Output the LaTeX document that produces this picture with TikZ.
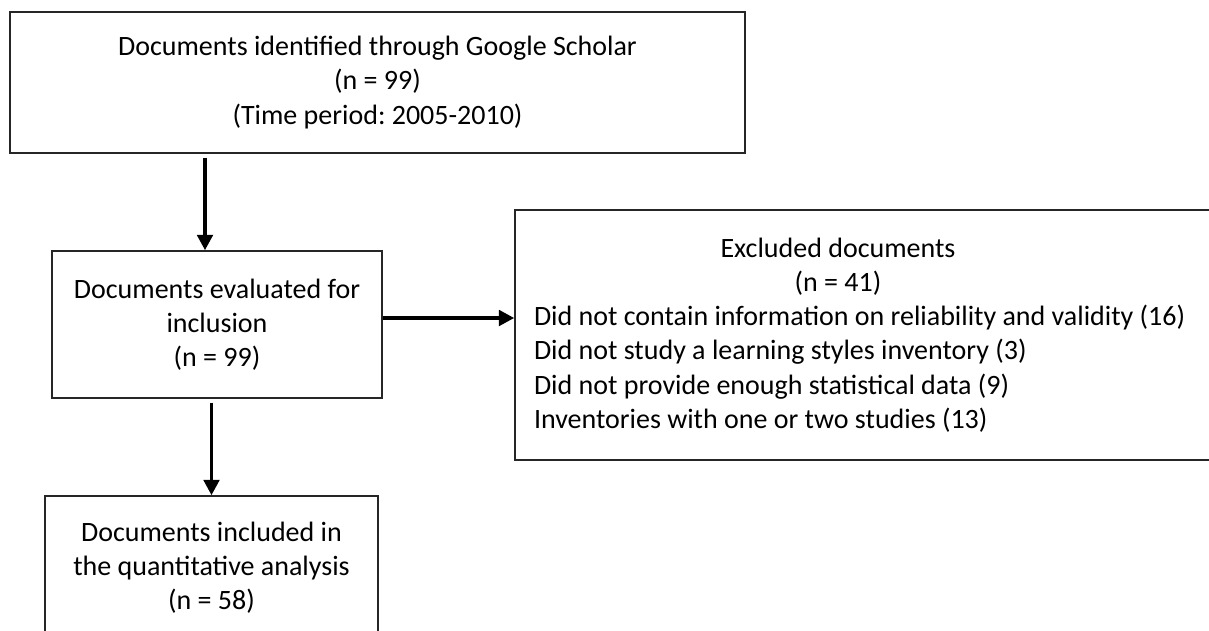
\documentclass[tikz,border=0pt]{standalone}
\usepackage{fontspec}
\setmainfont{Carlito}
\usepackage{tikz}
\usetikzlibrary{shapes,arrows.meta,calc}
\frenchspacing

\tikzset{
    box/.style={draw=black!85, line width=1.1pt, inner sep=0pt, align=center},
    arr/.style={line width=2.8pt, -{Triangle[length=11.5pt,width=11.5pt]}},
    every node/.style={font=\fontsize{21pt}{25.7pt}\selectfont}
}

\begin{document}
\begin{tikzpicture}[x=0.75pt,y=0.75pt,yscale=-1]
    %set diagram size to 1209 x 631
    \useasboundingbox (0,0) rectangle (1209,631);
    \clip (0,0) rectangle (1209,631);
    
    %Shape: Rectangle [top]
    \node (top) [box, minimum width=551.25pt, minimum height=105.75pt] at (377.5,82.5)
        {Documents identified through Google Scholar\\(n = 99)\\(Time period: 2005-2010)};
    
    %Shape: Rectangle [eval]
    \node (eval) [box, minimum width=247.5pt, minimum height=110.25pt] at (217,324.5)
        {Documents evaluated for\\inclusion\\(n = 99)};
    
    %Shape: Rectangle [incl]
    \node (incl) [box, minimum width=249.75pt, minimum height=107.25pt] at (211.5,567.5)
        {Documents included in\\the quantitative analysis\\(n = 58)};
    
    %Shape: Rectangle [excl]
    \node (excl) [box, minimum width=540pt, minimum height=187.5pt, text width=511.5pt, align=flush left] at (875,335)
        {\makebox[456pt]{Excluded documents}\\
         \makebox[456pt]{(n = 41)}\\
         Did not contain information on reliability and validity (16)\\
         Did not study a learning styles inventory (3)\\
         Did not provide enough statistical data (9)\\
         Inventories with one or two studies (13)};
    
    
    %Straight Lines
    \coordinate (a1) at ($(eval.north)+(-12,0)$);
    \draw [arr] ($(a1 |- top.south)+(0,4)$) -- (a1);
    
    %Straight Lines
    \draw [arr] ($(eval.east)+(0,-6.5)$) -- ($(eval.east -| excl.west)+(0,-6.5)$);
    
    %Straight Lines
    \draw [arr] ($(incl.north |- eval.south)+(0,4)$) -- (incl.north);
    
\end{tikzpicture}
\end{document}
